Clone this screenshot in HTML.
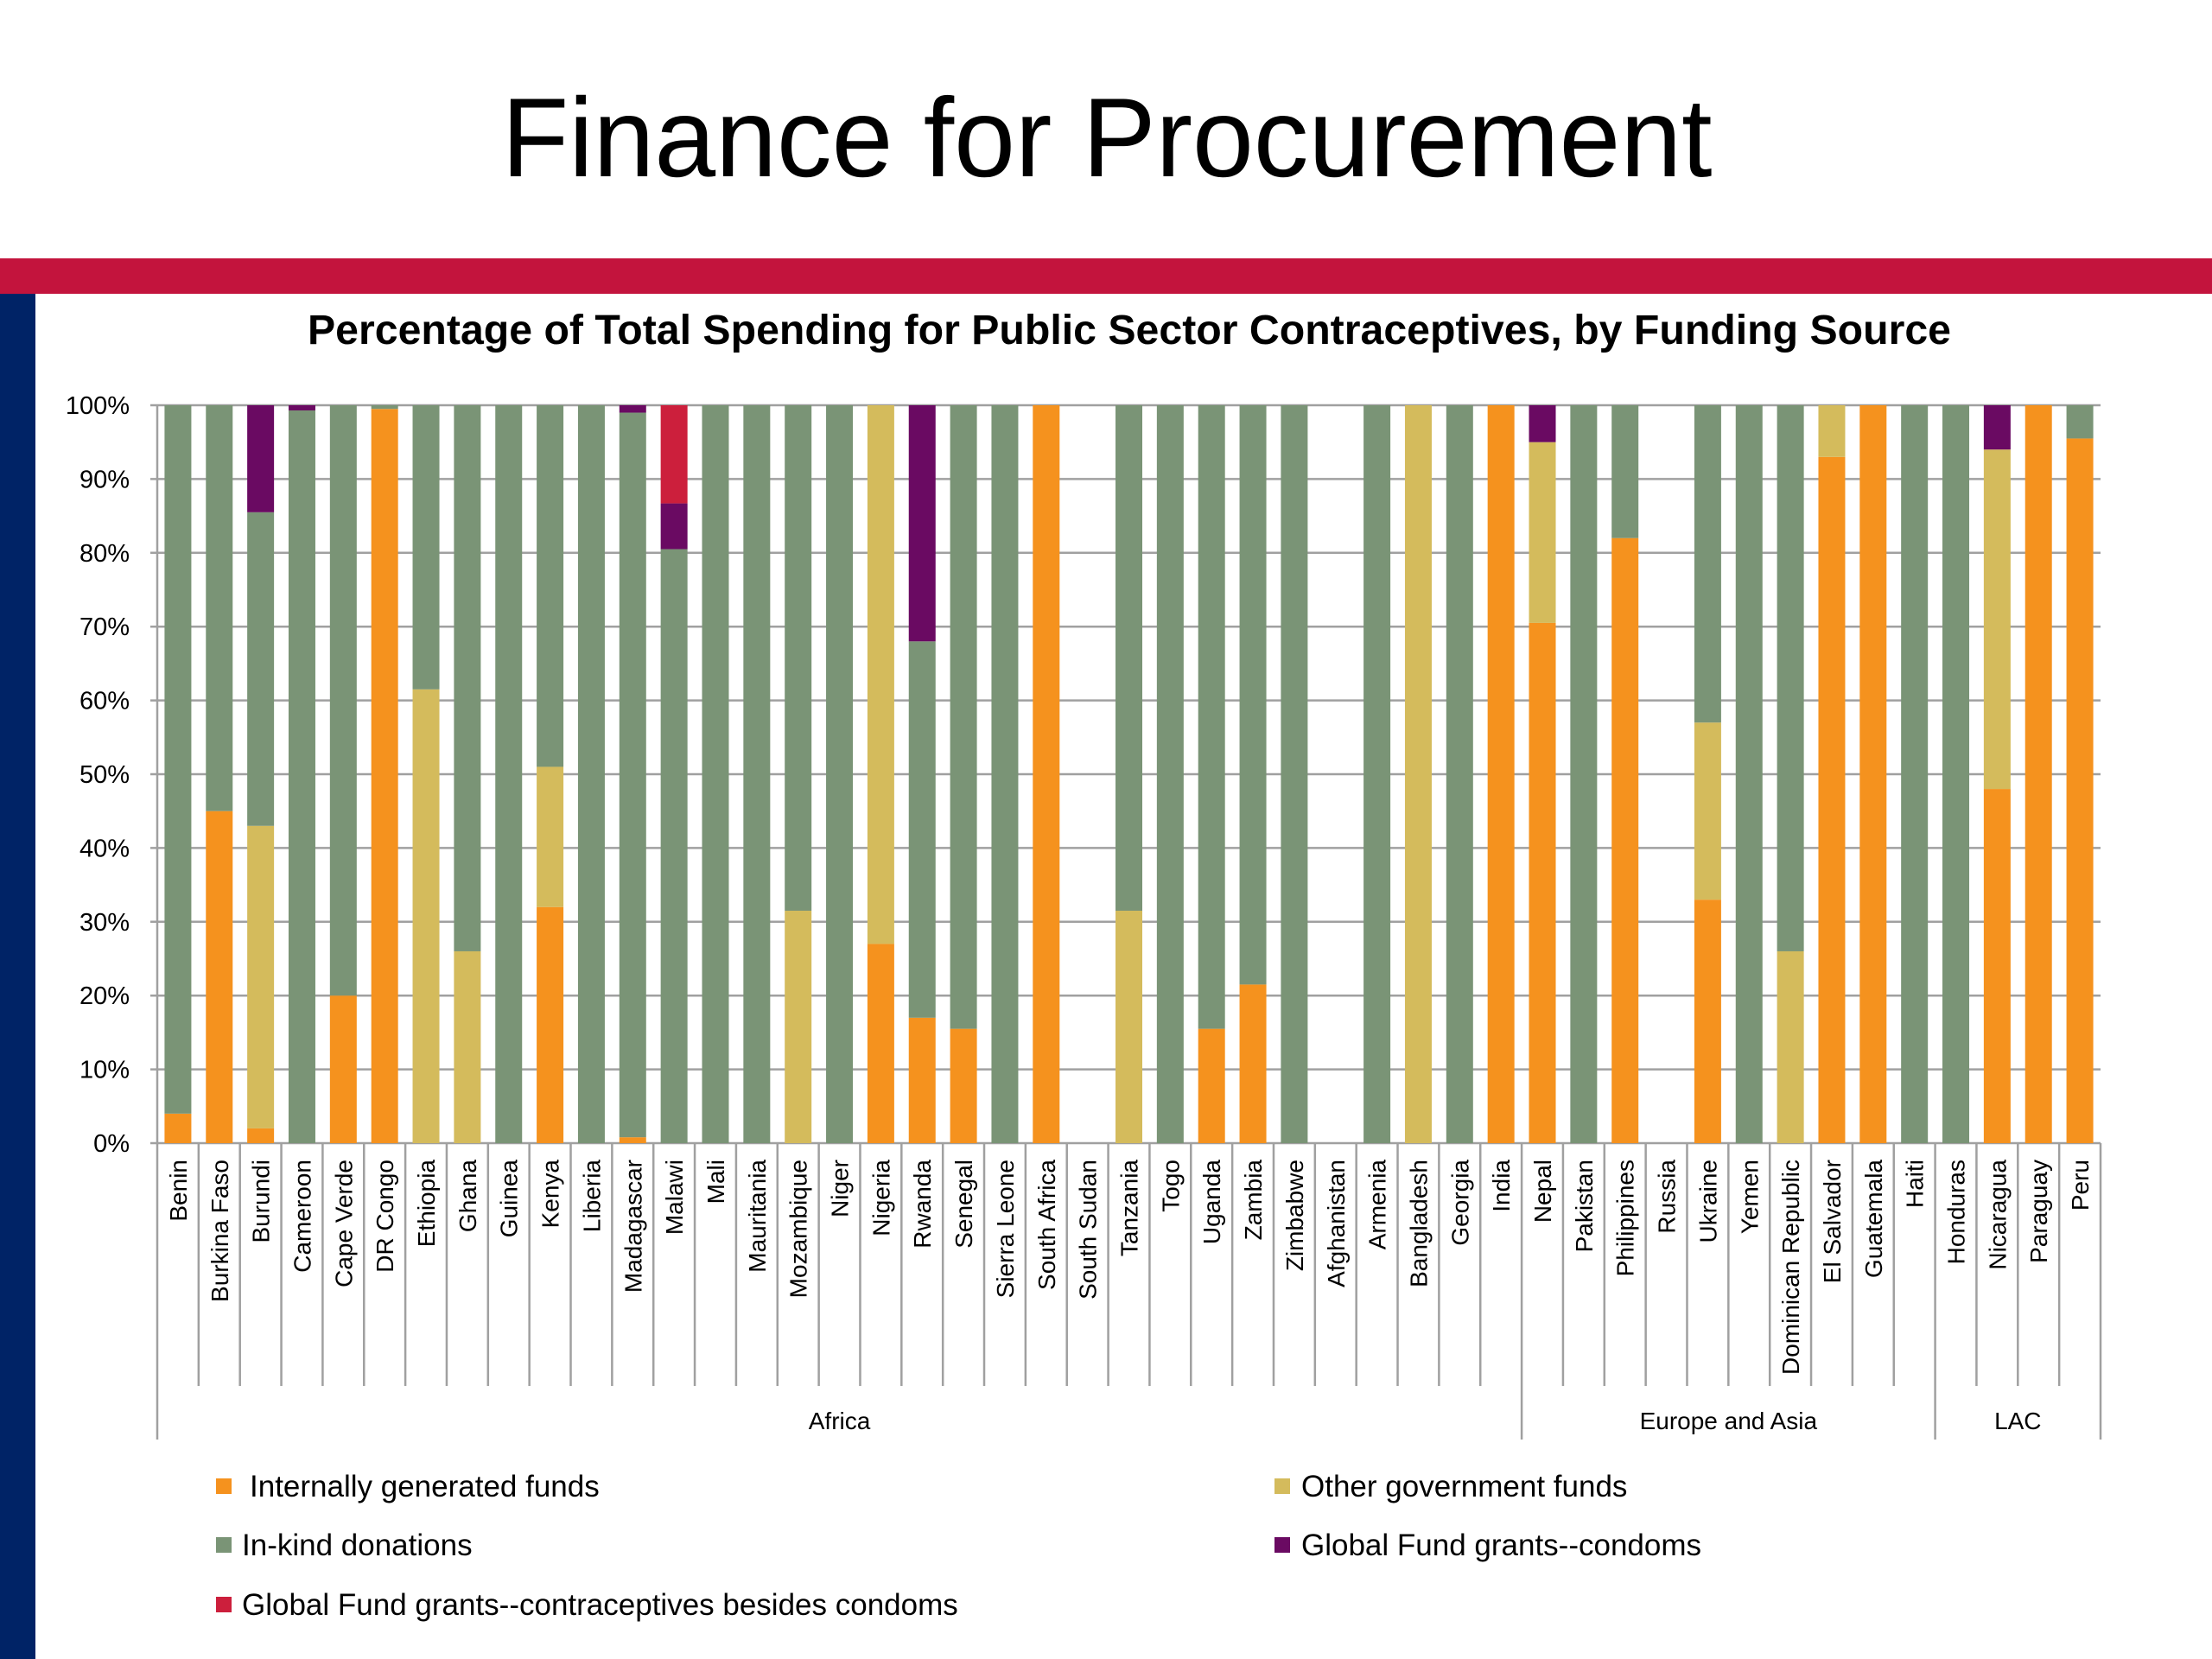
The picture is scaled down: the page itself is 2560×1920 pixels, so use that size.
<!DOCTYPE html>
<html><head><meta charset="utf-8">
<style>html,body{margin:0;padding:0;background:#fff}svg{display:block}</style>
</head><body>
<svg id="s" xmlns="http://www.w3.org/2000/svg" width="2560" height="1920" viewBox="0 0 2560 1920" font-family="Liberation Sans, sans-serif">
<rect width="2560" height="1920" fill="#fff"/>
<text x="1281" y="204" font-size="130" text-anchor="middle" textLength="1401" lengthAdjust="spacingAndGlyphs" fill="#000">Finance for Procurement</text>
<rect x="0" y="299" width="2560" height="41" fill="#c3143d"/>
<rect x="0" y="340" width="41" height="1580" fill="#002366"/>
<text x="1307" y="398" font-size="48" font-weight="bold" text-anchor="middle" textLength="1902" lengthAdjust="spacingAndGlyphs" fill="#000">Percentage of Total Spending for Public Sector Contraceptives, by Funding Source</text>
<g id="g"></g>
</svg>
<script>
var C={i:"#f5921e",o:"#d4bb5c",k:"#7a9476",c:"#6a0a62",r:"#cc1f3c"};
var D=[["Benin",4,0,96,0,0],["Burkina Faso",45,0,55,0,0],["Burundi",2,41,42.5,14.5,0],["Cameroon",0,0,99.3,0.7,0],["Cape Verde",20,0,80,0,0],["DR Congo",99.5,0,0.5,0,0],["Ethiopia",0,61.5,38.5,0,0],["Ghana",0,26,74,0,0],["Guinea",0,0,100,0,0],["Kenya",32,19,49,0,0],["Liberia",0,0,100,0,0],["Madagascar",0.8,0,98.2,1,0],["Malawi",0,0,80.5,6.2,13.3],["Mali",0,0,100,0,0],["Mauritania",0,0,100,0,0],["Mozambique",0,31.5,68.5,0,0],["Niger",0,0,100,0,0],["Nigeria",27,73,0,0,0],["Rwanda",17,0,51,32,0],["Senegal",15.5,0,84.5,0,0],["Sierra Leone",0,0,100,0,0],["South Africa",100,0,0,0,0],["South Sudan",0,0,0,0,0],["Tanzania",0,31.5,68.5,0,0],["Togo",0,0,100,0,0],["Uganda",15.5,0,84.5,0,0],["Zambia",21.5,0,78.5,0,0],["Zimbabwe",0,0,100,0,0],["Afghanistan",0,0,0,0,0],["Armenia",0,0,100,0,0],["Bangladesh",0,100,0,0,0],["Georgia",0,0,100,0,0],["India",100,0,0,0,0],["Nepal",70.5,24.5,0,5,0],["Pakistan",0,0,100,0,0],["Philippines",82,0,18,0,0],["Russia",0,0,0,0,0],["Ukraine",33,24,43,0,0],["Yemen",0,0,100,0,0],["Dominican Republic",0,26,74,0,0],["El Salvador",93,7,0,0,0],["Guatemala",100,0,0,0,0],["Haiti",0,0,100,0,0],["Honduras",0,0,100,0,0],["Nicaragua",48,46,0,6,0],["Paraguay",100,0,0,0,0],["Peru",95.5,0,4.5,0,0]];
var x0=182,x1=2431,yT=469,yB=1323,H=yB-yT,n=D.length,sl=(x1-x0)/n,bw=31;
var s="";
for(var g=0;g<=10;g++){var y=yB-H*g/10;s+='<line x1="'+(x0-8)+'" y1="'+y+'" x2="'+x1+'" y2="'+y+'" stroke="#a0a0a0" stroke-width="2.5"/>';
s+='<text x="150" y="'+(y+10)+'" font-size="29" text-anchor="end" fill="#000">'+(g*10)+'%</text>';}
s+='<line x1="'+x0+'" y1="'+yT+'" x2="'+x0+'" y2="'+yB+'" stroke="#a0a0a0" stroke-width="2.5"/>';
var keys=["i","o","k","c","r"];
for(var j=0;j<n;j++){var cx=x0+sl*(j+0.5),acc=0;
for(var q=0;q<5;q++){var v=D[j][q+1];if(v>0){var yy=yB-H*(acc+v)/100;s+='<rect x="'+(cx-bw/2)+'" y="'+yy+'" width="'+bw+'" height="'+(H*v/100)+'" fill="'+C[keys[q]]+'"/>';acc+=v;}}
s+='<text transform="translate('+(cx+10)+',1342) rotate(-90)" font-size="28" text-anchor="end" fill="#000">'+D[j][0]+'</text>';}
var grp=[0,33,43,47];
for(var j=0;j<=n;j++){var xx=x0+sl*j;var big=grp.indexOf(j)>=0;s+='<line x1="'+xx+'" y1="'+yB+'" x2="'+xx+'" y2="'+(big?1666:1604)+'" stroke="#a0a0a0" stroke-width="2.5"/>';}
var gn=["Africa","Europe and Asia","LAC"];
for(var q=0;q<3;q++){var cx=x0+sl*(grp[q]+grp[q+1])/2;s+='<text x="'+cx+'" y="1654" font-size="28" text-anchor="middle" fill="#000">'+gn[q]+'</text>';}
var L=[[250,1720,"i","Internally generated funds",289],[1475,1720,"o","Other government funds",1506],[250,1788,"k","In-kind donations",280],[1475,1788,"c","Global Fund grants--condoms",1506],[250,1857,"r","Global Fund grants--contraceptives besides condoms",280]];
L.forEach(function(l){s+='<rect x="'+l[0]+'" y="'+(l[1]-9)+'" width="18" height="18" fill="'+C[l[2]]+'"/><text x="'+l[4]+'" y="'+(l[1]+12)+'" font-size="35" fill="#000">'+l[3]+'</text>';});
document.getElementById("g").innerHTML=s;
</script>
</body></html>
